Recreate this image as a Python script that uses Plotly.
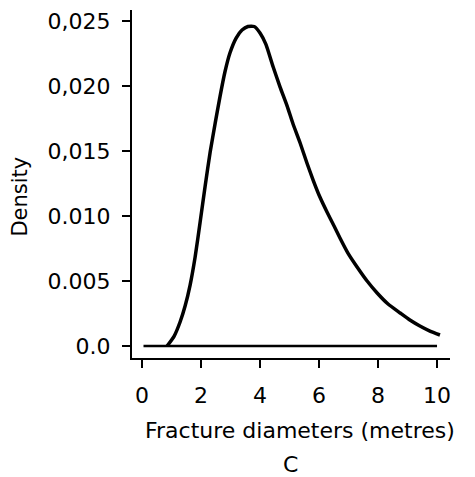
import plotly.graph_objects as go

# fracture diameter density curve
diameters = [0.85, 1.09, 1.29, 1.46, 1.63, 1.80, 1.97, 2.14, 2.31, 2.48,
             2.64, 2.81, 2.98, 3.19, 3.39, 3.59, 3.80, 4.00, 4.20, 4.44,
             4.68, 4.92, 5.12, 5.36, 5.59, 5.80, 6.03, 6.27, 6.51, 6.71,
             6.98, 7.29, 7.63, 7.97, 8.34, 8.75, 9.08, 9.42, 9.76, 10.10]
density = [0.0, 0.00077, 0.00185, 0.00308, 0.00469, 0.00685, 0.00954, 0.01231, 0.01492, 0.01715,
           0.01915, 0.02108, 0.02254, 0.02369, 0.02431, 0.02458, 0.02458, 0.02408, 0.02320, 0.02150,
           0.01992, 0.01846, 0.01708, 0.01562, 0.01408, 0.01277, 0.01146, 0.01031, 0.00923, 0.00831,
           0.00715, 0.00608, 0.00500, 0.00408, 0.00323, 0.00254, 0.00200, 0.00154, 0.00115, 0.00085]

baseline_x = [0.05, 10.0]
baseline_y = [0.0, 0.0]

x_ticks = [0, 2, 4, 6, 8, 10]
y_ticks = [0.0, 0.005, 0.010, 0.015, 0.020, 0.025]
y_labels = ["0.0", "0.005", "0.010", "0,015", "0,020", "0,025"]

font = "DejaVu Sans"

fig = go.Figure()
fig.add_trace(go.Scatter(x=baseline_x, y=baseline_y, mode='lines',
                         line=dict(color='black', width=2.5)))
fig.add_trace(go.Scatter(x=diameters, y=density, mode='lines',
                         line=dict(color='black', width=3.5, shape='spline', smoothing=0.5)))

fig.update_xaxes(range=[-0.34, 10.44], tickvals=x_ticks, ticks='outside', ticklen=8,
                 tickwidth=2, tickcolor='black', showline=True, linecolor='black',
                 linewidth=2, showgrid=False, zeroline=False, ticklabelstandoff=9,
                 tickfont=dict(family=font, size=22, color='black'))
fig.update_yaxes(range=[-0.00092, 0.02585], tickvals=y_ticks, ticktext=y_labels,
                 ticks='outside', ticklen=8, tickwidth=2, tickcolor='black',
                 showline=True, linecolor='black', linewidth=2, showgrid=False,
                 zeroline=False, ticklabelstandoff=7,
                 tickfont=dict(family=font, size=22, color='black'))

fig.add_annotation(text="Fracture diameters (metres)", x=0.528, y=-0.207,
                   xanchor='center', yanchor='middle',
                   xref='paper', yref='paper', showarrow=False,
                   font=dict(family=font, size=22, color='black'))
fig.add_annotation(text="C", xref='paper', yref='paper', x=0.497, y=-0.307,
                   xanchor='center', yanchor='middle',
                   showarrow=False, font=dict(family=font, size=22, color='black'))
fig.add_annotation(text="Density", xref='paper', yref='paper', x=-0.353, y=0.463,
                   xanchor='center', yanchor='middle',
                   textangle=-90, showarrow=False,
                   font=dict(family=font, size=21, color='black'))

fig.update_layout(width=475, height=477, showlegend=False,
                  margin=dict(l=124, r=33, t=2, b=127),
                  plot_bgcolor='white', paper_bgcolor='white')

fig.write_html("out.html")
